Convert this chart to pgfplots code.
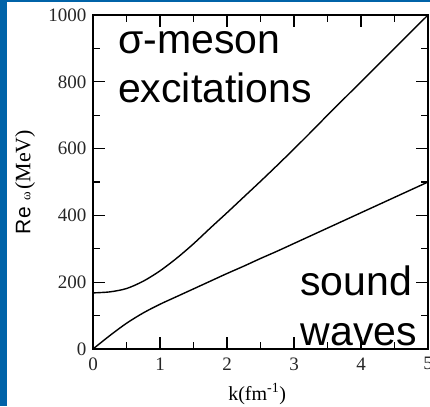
\documentclass[border=0pt]{standalone}
\usepackage{fontspec}
\setmainfont{Liberation Serif}
\newfontfamily\arial{Liberation Sans}
\usepackage{pgfplots}
\pgfplotsset{compat=1.18}
\definecolor{slideblue}{RGB}{0,99,168}

\begin{document}
\begin{tikzpicture}
\path[use as bounding box] (0,0) rectangle (430pt,406pt);
\fill[slideblue] (0,0) rectangle (7pt,406pt);
\fill[slideblue] (0,403.5pt) rectangle (430pt,406pt);
\begin{axis}[
  at={(93pt,57pt)}, anchor=south west,
  scale only axis, width=335pt, height=334pt,
  xmin=0, xmax=5, ymin=0, ymax=1000,
  xtick={0,1,2,3,4,5}, ytick={0,200,400,600,800,1000},
  minor xtick={0.5,1.5,2.5,3.5,4.5}, minor ytick={100,300,500,700,900},
  tick align=inside, major tick length=12pt, minor tick length=7pt,
  every tick/.style={black, line width=1.2pt},
  axis line style={line width=1.4pt},
  /pgf/number format/assume math mode=true,
  /pgf/number format/1000 sep={},
  tick label style={font=\fontsize{19}{19}\selectfont, text=black!85},
  xticklabel style={yshift=-5pt},
  yticklabel style={xshift=-3pt},
  xlabel={k(fm\textsuperscript{-1})},
  xlabel style={font=\fontsize{20}{20}\selectfont, at={(rel axis cs:0.49,-0.135)}, anchor=center},
  ylabel={{\arial\fontsize{21}{21}\selectfont Re}\hspace{7pt}{\fontsize{13}{13}\selectfont ω}\hspace{2pt}{\fontsize{22}{22}\selectfont(MeV)}},
  ylabel style={at={(rel axis cs:-0.203,0.50)}, anchor=center},
  clip=false,
]
\addplot[line width=1.4pt, smooth, black] coordinates {
  (0,0) (0.25,40) (0.5,77) (0.75,108) (1,134) (1.25,157) (1.5,180)
  (1.75,203) (2,226) (2.25,248) (2.5,271) (2.75,293) (3,316) (3.5,362)
  (4,408) (4.5,454) (5,500)
};
\addplot[line width=1.4pt, smooth, black] coordinates {
  (0,168) (0.25,171) (0.5,181) (0.75,203) (1,234) (1.25,272) (1.5,315)
  (1.75,362) (2,408) (2.25,455) (2.5,502) (2.75,550) (3,599) (3.25,649)
  (3.5,700) (4,800) (4.5,900) (5,1000)
};
\node[anchor=base west, inner sep=0, font=\arial\fontsize{41}{41}\selectfont] at (axis cs:0.373,884) {σ-meson};
\node[anchor=base west, inner sep=0, font=\arial\fontsize{41}{41}\selectfont] at (axis cs:0.373,737) {excitations};
\node[anchor=base west, inner sep=0, font=\arial\fontsize{41}{41}\selectfont] at (axis cs:3.09,161) {sound};
\node[anchor=base west, inner sep=0, font=\arial\fontsize{41}{41}\selectfont] at (axis cs:3.10,9) {waves};
\end{axis}
\end{tikzpicture}
\end{document}
